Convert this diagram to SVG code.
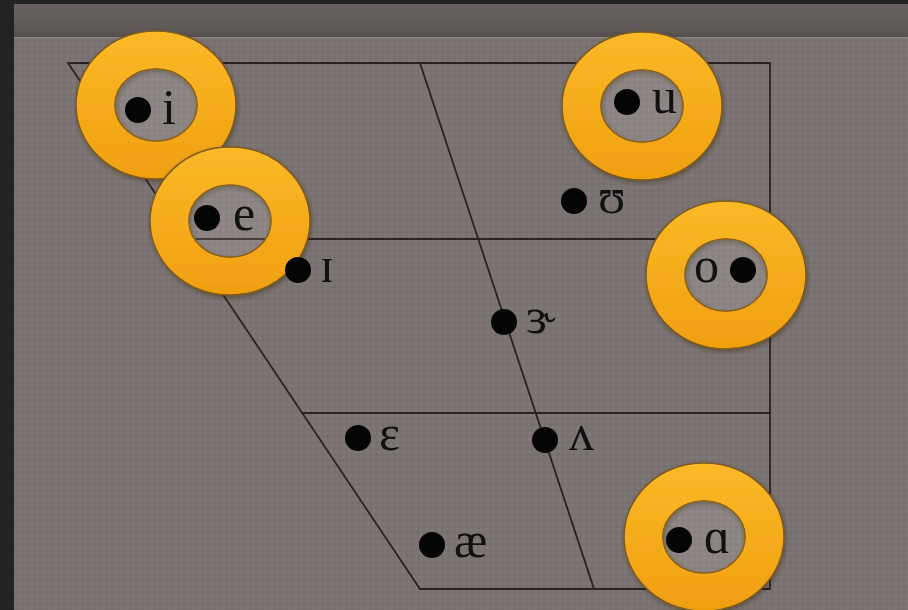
<svg xmlns="http://www.w3.org/2000/svg" width="908" height="610" viewBox="0 0 908 610">
<style>
.ln{stroke:#2b2321;stroke-width:1.8;fill:none;stroke-linecap:square}
.ring{fill:url(#og);stroke:#7d5a22;stroke-width:1.5;fill-rule:evenodd;filter:url(#sh)}
.hole{fill:#ffffff;fill-opacity:0.13;stroke:#8a6420;stroke-width:1.2}
.dot{fill:#050505}
.lb{font-family:"Liberation Serif","DejaVu Serif",serif;font-size:50px;fill:#111}
</style>
<defs>
<linearGradient id="og" x1="0" y1="0" x2="0" y2="1">
<stop offset="0" stop-color="#fbb928"/>
<stop offset="1" stop-color="#f09f10"/>
</linearGradient>
<linearGradient id="hg" x1="0" y1="0" x2="0" y2="1">
<stop offset="0" stop-color="#67615f"/>
<stop offset="0.8" stop-color="#5e5856"/>
<stop offset="1" stop-color="#544e4c"/>
</linearGradient>
<pattern id="tx" width="6" height="6" patternUnits="userSpaceOnUse">
<rect width="6" height="6" fill="#7b7371"/>
<rect width="3" height="3" fill="#7f7775"/>
<rect x="3" y="3" width="3" height="3" fill="#777070"/>
</pattern>
<filter id="sh" x="-20%" y="-20%" width="140%" height="140%">
<feDropShadow dx="1" dy="2" stdDeviation="2" flood-color="#2a2010" flood-opacity="0.45"/>
</filter>
</defs>
<rect width="908" height="610" fill="url(#tx)"/>
<rect x="14" y="4" width="894" height="33" fill="url(#hg)"/>
<rect x="14" y="37" width="894" height="1.5" fill="#8c8482"/>
<rect width="908" height="4" fill="#242424"/>
<rect width="14" height="610" fill="#222222"/>
<g id="connectors">
<path class="ln" d="M68 63 L770 63 L770 589 L420 589 Z"/>
<line class="ln" x1="186" y1="239" x2="770" y2="239"/>
<line class="ln" x1="302" y1="413" x2="770" y2="413"/>
<line class="ln" x1="420" y1="63" x2="594" y2="589"/>
</g>
<g id="node-i">
<path class="ring" d="M76 105 a80 74 0 1 0 160 0 a80 74 0 1 0 -160 0 Z M115 105 a41 36 0 1 1 82 0 a41 36 0 1 1 -82 0 Z"/>
<ellipse class="hole" cx="156" cy="105" rx="41" ry="36"/>
<circle class="dot" cx="138" cy="110" r="13"/>
<text class="lb" x="162" y="124">i</text>
</g>
<g id="node-e">
<path class="ring" d="M150 221 a80 74 0 1 0 160 0 a80 74 0 1 0 -160 0 Z M189 221 a41 36 0 1 1 82 0 a41 36 0 1 1 -82 0 Z"/>
<ellipse class="hole" cx="230" cy="221" rx="41" ry="36"/>
<circle class="dot" cx="207" cy="218" r="13"/>
<text class="lb" x="233" y="230">e</text>
</g>
<g id="node-u">
<path class="ring" d="M562 106 a80 74 0 1 0 160 0 a80 74 0 1 0 -160 0 Z M601 106 a41 36 0 1 1 82 0 a41 36 0 1 1 -82 0 Z"/>
<ellipse class="hole" cx="642" cy="106" rx="41" ry="36"/>
<circle class="dot" cx="627" cy="102" r="13"/>
<text class="lb" x="652" y="113">u</text>
</g>
<g id="node-o">
<path class="ring" d="M646 275 a80 74 0 1 0 160 0 a80 74 0 1 0 -160 0 Z M685 275 a41 36 0 1 1 82 0 a41 36 0 1 1 -82 0 Z"/>
<ellipse class="hole" cx="726" cy="275" rx="41" ry="36"/>
<text class="lb" x="694" y="282">o</text>
<circle class="dot" cx="743" cy="270" r="13"/>
</g>
<g id="node-a">
<path class="ring" d="M624 537 a80 74 0 1 0 160 0 a80 74 0 1 0 -160 0 Z M663 537 a41 36 0 1 1 82 0 a41 36 0 1 1 -82 0 Z"/>
<ellipse class="hole" cx="704" cy="537" rx="41" ry="36"/>
<circle class="dot" cx="679" cy="540" r="13"/>
<text class="lb" x="704" y="553">ɑ</text>
</g>
<g id="node-schwa-i">
<circle class="dot" cx="298" cy="270" r="13"/>
<text class="lb" x="320" y="282">ɪ</text>
</g>
<g id="node-upsilon">
<circle class="dot" cx="574" cy="201" r="13"/>
<text class="lb" x="598" y="213">ʊ</text>
</g>
<g id="node-er">
<circle class="dot" cx="504" cy="322" r="13"/>
<text class="lb" x="526" y="333">ɝ</text>
</g>
<g id="node-epsilon">
<circle class="dot" cx="358" cy="438" r="13"/>
<text class="lb" x="379" y="450">ɛ</text>
</g>
<g id="node-wedge">
<circle class="dot" cx="545" cy="440" r="13"/>
<text class="lb" x="569" y="450">ʌ</text>
</g>
<g id="node-ae">
<circle class="dot" cx="432" cy="545" r="13"/>
<text class="lb" x="454" y="557">æ</text>
</g>
</svg>
